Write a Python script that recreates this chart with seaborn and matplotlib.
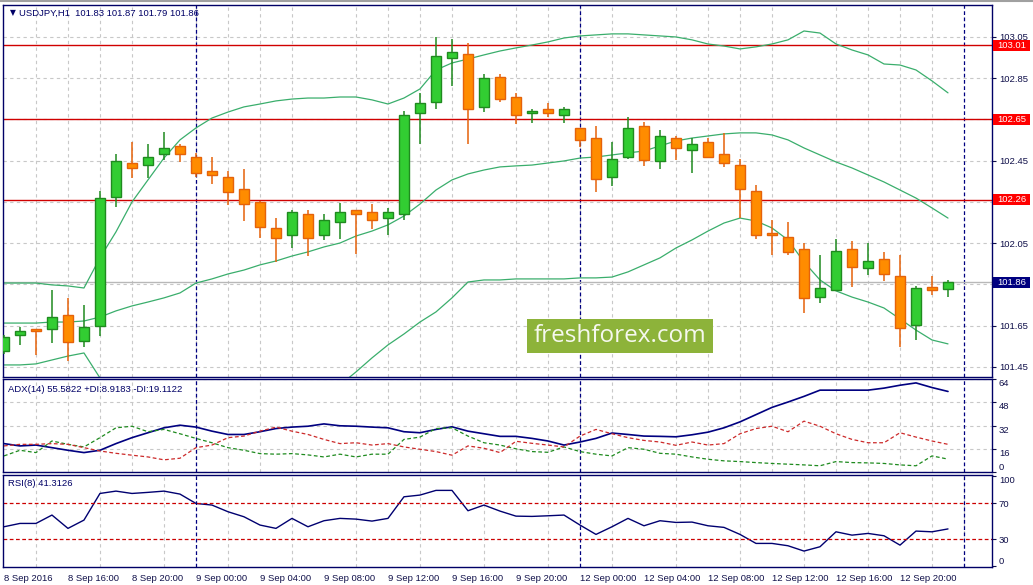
import matplotlib
matplotlib.use("Agg")
import matplotlib.pyplot as plt
import matplotlib.transforms as mtransforms
from matplotlib.patches import Rectangle
import seaborn as sns
import pandas as pd
import numpy as np

# USDJPY H1, 8 Sep 2016 12:00 .. 12 Sep 2016 23:00 (60 bars)
opens = [101.529, 101.604, 101.633, 101.633, 101.702, 101.578, 101.650, 102.276, 102.439, 102.428,
         102.481, 102.522, 102.467, 102.399, 102.370, 102.312, 102.250, 102.122, 102.089, 102.190,
         102.089, 102.152, 102.210, 102.200, 102.171, 102.190, 102.680, 102.736, 102.947, 102.966,
         102.709, 102.858, 102.758, 102.680, 102.699, 102.670, 102.607, 102.559, 102.370, 102.467,
         102.618, 102.447, 102.559, 102.501, 102.539, 102.481, 102.428, 102.302, 102.098, 102.079,
         102.021, 101.791, 101.822, 102.021, 101.929, 101.972, 101.890, 101.652, 101.839, 101.830]
highs = [101.605, 101.643, 101.636, 101.823, 101.786, 101.751, 102.305, 102.483, 102.542, 102.531,
         102.588, 102.531, 102.489, 102.470, 102.399, 102.410, 102.255, 102.171, 102.211, 102.211,
         102.190, 102.244, 102.212, 102.240, 102.219, 102.691, 102.777, 103.050, 103.039, 103.019,
         102.871, 102.871, 102.777, 102.702, 102.729, 102.709, 102.610, 102.618, 102.539, 102.661,
         102.638, 102.599, 102.570, 102.559, 102.559, 102.586, 102.457, 102.332, 102.163, 102.155,
         102.050, 101.993, 102.069, 102.061, 102.050, 102.009, 101.991, 101.843, 101.891, 101.870]
lows = [101.515, 101.558, 101.508, 101.568, 101.479, 101.548, 101.600, 102.227, 102.368, 102.368,
        102.454, 102.445, 102.370, 102.337, 102.237, 102.159, 102.077, 101.961, 102.028, 101.990,
        102.066, 102.069, 101.999, 102.118, 102.090, 102.163, 102.530, 102.700, 102.814, 102.530,
        102.688, 102.736, 102.627, 102.634, 102.661, 102.634, 102.518, 102.300, 102.329, 102.457,
        102.426, 102.409, 102.454, 102.389, 102.467, 102.418, 102.171, 102.069, 101.991, 101.991,
        101.710, 101.762, 101.822, 101.840, 101.896, 101.868, 101.548, 101.581, 101.801, 101.790]
closes = [101.594, 101.623, 101.623, 101.691, 101.570, 101.643, 102.268, 102.447, 102.416, 102.468,
          102.510, 102.481, 102.389, 102.379, 102.300, 102.239, 102.130, 102.077, 102.200, 102.077,
          102.161, 102.200, 102.190, 102.161, 102.200, 102.670, 102.729, 102.956, 102.976, 102.699,
          102.850, 102.748, 102.670, 102.690, 102.680, 102.699, 102.549, 102.360, 102.457, 102.607,
          102.454, 102.569, 102.510, 102.531, 102.467, 102.438, 102.312, 102.089, 102.089, 102.009,
          101.783, 101.832, 102.012, 101.936, 101.964, 101.899, 101.641, 101.832, 101.822, 101.860]

bb_upper = [101.857, 101.857, 101.857, 101.848, 101.843, 101.833, 101.979, 102.105, 102.250, 102.357,
            102.463, 102.551, 102.609, 102.657, 102.686, 102.711, 102.725, 102.740, 102.749, 102.754,
            102.754, 102.759, 102.759, 102.745, 102.725, 102.754, 102.798, 102.890, 102.924, 102.943,
            102.963, 102.982, 102.997, 103.011, 103.026, 103.045, 103.055, 103.060, 103.065, 103.065,
            103.060, 103.055, 103.050, 103.036, 103.016, 103.006, 102.992, 103.002, 103.016, 103.036,
            103.079, 103.069, 103.016, 102.987, 102.963, 102.919, 102.914, 102.890, 102.837, 102.779]
bb_mid = [101.663, 101.663, 101.663, 101.668, 101.668, 101.673, 101.692, 101.722, 101.746, 101.765,
          101.785, 101.809, 101.857, 101.877, 101.901, 101.920, 101.945, 101.964, 101.988, 102.008,
          102.032, 102.051, 102.085, 102.109, 102.139, 102.182, 102.240, 102.308, 102.357, 102.386,
          102.405, 102.420, 102.425, 102.429, 102.439, 102.449, 102.463, 102.468, 102.478, 102.488,
          102.497, 102.522, 102.546, 102.560, 102.570, 102.580, 102.585, 102.585, 102.575, 102.551,
          102.512, 102.478, 102.444, 102.415, 102.381, 102.347, 102.308, 102.269, 102.221, 102.172]
bb_lower = [101.460, 101.460, 101.465, 101.484, 101.503, 101.518, 101.397, 101.339, 101.242, 101.174,
            101.106, 101.067, 101.106, 101.096, 101.116, 101.130, 101.164, 101.188, 101.227, 101.261,
            101.309, 101.363, 101.426, 101.494, 101.557, 101.610, 101.668, 101.717, 101.785, 101.862,
            101.872, 101.872, 101.877, 101.877, 101.877, 101.877, 101.882, 101.882, 101.886, 101.911,
            101.945, 101.979, 102.027, 102.066, 102.109, 102.148, 102.172, 102.158, 102.124, 102.066,
            101.959, 101.872, 101.819, 101.789, 101.765, 101.736, 101.683, 101.629, 101.581, 101.562]

adx = [19.6, 18.0, 18.6, 16.8, 15.0, 13.4, 15.0, 19.6, 23.7, 27.1,
       30.5, 32.3, 31.0, 28.2, 25.9, 25.9, 27.8, 30.0, 31.0, 31.6,
       33.2, 31.9, 31.6, 31.0, 30.5, 27.8, 27.1, 29.4, 31.2, 28.2,
       26.4, 24.6, 24.6, 23.2, 21.4, 18.6, 20.7, 23.2, 26.9, 25.9,
       24.8, 24.6, 24.3, 25.7, 27.5, 30.5, 34.6, 39.6, 44.6, 48.3,
       52.2, 56.5, 56.5, 56.5, 56.5, 57.9, 59.9, 61.5, 58.3, 55.6]
plus_di = [11.1, 15.0, 13.4, 21.4, 19.1, 17.3, 23.7, 30.5, 31.6, 27.8,
           29.4, 26.4, 23.2, 20.2, 16.8, 15.0, 12.7, 12.3, 12.7, 11.8,
           10.4, 12.3, 10.4, 12.3, 12.3, 22.5, 24.1, 30.0, 30.5, 24.8,
           20.2, 18.6, 16.0, 14.1, 13.6, 17.3, 14.1, 12.3, 11.1, 16.8,
           15.7, 12.9, 12.3, 10.4, 8.8, 7.7, 7.2, 6.5, 5.9, 5.4,
           4.9, 4.3, 7.2, 6.5, 6.3, 5.9, 4.9, 4.3, 11.1, 8.9]
minus_di = [18.0, 19.1, 19.1, 19.6, 19.1, 16.8, 14.5, 12.9, 11.6, 10.4,
            8.4, 9.5, 16.8, 18.6, 23.7, 24.8, 28.2, 31.0, 28.2, 25.9,
            22.5, 19.6, 20.2, 18.6, 19.6, 17.3, 15.7, 14.1, 11.6, 18.0,
            16.4, 13.4, 21.2, 19.8, 18.6, 17.3, 24.8, 29.4, 26.4, 23.7,
            21.8, 20.7, 18.4, 20.7, 18.6, 19.6, 26.4, 30.0, 31.6, 27.8,
            35.1, 31.6, 26.4, 22.5, 20.2, 20.2, 27.1, 24.1, 21.4, 19.1]
rsi = [43.7, 47.4, 47.4, 56.7, 41.9, 51.1, 80.7, 83.3, 80.7, 81.9,
       83.3, 80.0, 69.6, 67.8, 60.4, 54.8, 45.6, 41.9, 53.0, 43.7,
       50.4, 53.0, 52.2, 50.0, 53.0, 77.0, 78.9, 84.1, 84.1, 61.5,
       67.8, 61.1, 55.5, 55.2, 55.9, 56.7, 45.6, 35.2, 43.7, 53.0,
       44.8, 50.4, 48.5, 48.9, 44.8, 43.0, 35.2, 25.2, 25.2, 22.6,
       16.7, 21.5, 38.1, 34.4, 36.3, 33.7, 23.3, 38.9, 38.1, 41.3]

time_labels = ["8 Sep 2016", "8 Sep 16:00", "8 Sep 20:00", "9 Sep 00:00", "9 Sep 04:00",
               "9 Sep 08:00", "9 Sep 12:00", "9 Sep 16:00", "9 Sep 20:00", "12 Sep 00:00",
               "12 Sep 04:00", "12 Sep 08:00", "12 Sep 12:00", "12 Sep 16:00", "12 Sep 20:00"]
price_ticks = [101.45, 101.65, 101.85, 102.05, 102.25, 102.45, 102.65, 102.85, 103.05]
red_levels = [103.01, 102.65, 102.26]
bid = 101.86
day_starts = [12, 36, 60]

W, H = 1033, 585
NAVY = "#000066"
TXT = "#10104a"
GRID = "#c8c8c8"
FS = 6.8

sns.set_style("white")
plt.rcParams["font.family"] = ["Liberation Sans", "DejaVu Sans"]

fig = plt.figure(figsize=(W / 100, H / 100), dpi=100)


def px_axes(x0, y0, x1, y1):
    return fig.add_axes([x0 / W, 1 - y1 / H, (x1 - x0) / W, (y1 - y0) / H])


ax = px_axes(3, 5, 992, 377)
ax_adx = px_axes(3, 379, 992, 472)
ax_rsi = px_axes(3, 475, 992, 567)

idx = np.arange(len(opens))
df = pd.DataFrame({"idx": idx, "open": opens, "high": highs, "low": lows, "close": closes,
                   "upper": bb_upper, "mid": bb_mid, "lower": bb_lower,
                   "adx": adx, "pdi": plus_di, "mdi": minus_di, "rsi": rsi})

XL = (-0.06, 61.75)
for a in (ax, ax_adx, ax_rsi):
    a.set_xlim(*XL)
    for s in a.spines.values():
        s.set_color(NAVY)
        s.set_linewidth(1)
    a.set_xticks(np.arange(0, 62, 2), minor=True)
    a.grid(True, which="minor", axis="x", color=GRID, lw=0.8, ls=(0, (3, 3)))
    a.yaxis.tick_right()
    a.tick_params(axis="y", which="both", length=3, direction="out", pad=2,
                  labelsize=FS, colors=TXT)
    for d in day_starts:
        a.axvline(d, color="#000080", lw=0.9, ls=(0, (3, 2)), zorder=1.8)

# --- main price panel
ylo, yhi = 101.4015, 103.205
ax.set_ylim(ylo, yhi)
ax.set_yticks(price_ticks)
# labels hidden behind the level boxes are left blank
covered = {102.65, 102.25, 101.85}
ax.set_yticklabels(["" if t in covered else f"{t:.2f}" for t in price_ticks])
ax.grid(True, which="major", axis="y", color=GRID, lw=0.8, ls=(0, (3, 3)))
ax.tick_params(axis="x", which="both", length=0, labelbottom=False)

ax.axhline(bid, color="#b8b8b8", lw=1, zorder=1.9)
for lv in red_levels:
    ax.axhline(lv, color="#d00000", lw=1, zorder=2.2)

for col in ["upper", "mid", "lower"]:
    sns.lineplot(data=df, x="idx", y=col, ax=ax, color="#3aae6c", lw=0.9,
                 estimator=None, errorbar=None, zorder=2.5)

o, h, l, c = (df[k].to_numpy() for k in ["open", "high", "low", "close"])
up = c >= o
body_lo = np.minimum(o, c)
body_h = np.maximum(np.abs(c - o), 0.004)
for mask, fc, ec in [(up, "#32cd32", "#1f8a1f"), (~up, "#ff8c00", "#e5620a")]:
    ax.vlines(idx[mask], l[mask], h[mask], color=ec, lw=1.1, zorder=3)
    ax.bar(idx[mask], body_h[mask], bottom=body_lo[mask], width=0.62,
           color=fc, edgecolor=ec, linewidth=1, zorder=4)

ppx = (377 - 5) / (yhi - ylo)
blend = mtransforms.blended_transform_factory(fig.transFigure, ax.transData)
for lv, fc in [(v, "#ff0000") for v in red_levels] + [(bid, "#000080")]:
    r = Rectangle((993 / W, lv - 5.5 / ppx), 37 / W, 11 / ppx, transform=blend,
                  fc=fc, ec="none", clip_on=False, zorder=10)
    ax.add_artist(r)
    ax.text(1011.5 / W, lv, f"{lv:.2f}", transform=blend, ha="center", va="center",
            color="white", fontsize=FS, zorder=11, clip_on=False)

# --- ADX panel
sns.lineplot(data=df, x="idx", y="adx", ax=ax_adx, color="#000080", lw=1.2,
             estimator=None, errorbar=None)
sns.lineplot(data=df, x="idx", y="pdi", ax=ax_adx, color="#1e8a1e", lw=0.9,
             linestyle=(0, (3, 2)), estimator=None, errorbar=None)
sns.lineplot(data=df, x="idx", y="mdi", ax=ax_adx, color="#cc2a2a", lw=0.9,
             linestyle=(0, (3, 2)), estimator=None, errorbar=None)
ax_adx.set_ylim(0, 64.2)
ax_adx.set_yticks([0, 16, 32, 48, 64])
ax_adx.set_yticklabels(["0", "16", "32", "48", "64"])
for t in ax_adx.get_yticklabels():
    t.set_va("bottom" if t.get_text() == "0" else "top")
ax_adx.grid(True, which="major", axis="y", color=GRID, lw=0.8, ls=(0, (3, 3)))
ax_adx.tick_params(axis="x", which="both", length=0, labelbottom=False)

# --- RSI panel
sns.lineplot(data=df, x="idx", y="rsi", ax=ax_rsi, color="#000070", lw=1,
             estimator=None, errorbar=None)
for lv in (70, 30):
    ax_rsi.axhline(lv, color="#cc0000", lw=0.9, ls=(0, (3, 2)))
ax_rsi.set_ylim(-1, 101.2)
ax_rsi.set_yticks([0, 30, 70, 100])
ax_rsi.set_yticklabels(["0", "30", "70", "100"])
for t in ax_rsi.get_yticklabels():
    if t.get_text() == "100":
        t.set_va("top")
    elif t.get_text() == "0":
        t.set_va("bottom")
ax_rsi.set_xticks(np.arange(0, 57, 4))
ax_rsi.set_xticklabels(time_labels)
ax_rsi.tick_params(axis="x", which="major", length=3, direction="out", pad=2,
                   labelsize=FS, colors=TXT)
ax_rsi.tick_params(axis="x", which="minor", length=0)
for t in ax_rsi.get_xticklabels():
    t.set_ha("left")

for a in (ax, ax_adx, ax_rsi):
    a.set_xlabel("")
    a.set_ylabel("")

# --- captions
fig.text(10 / W, 1 - 13 / H, "\u25bc", fontsize=5.5, color=NAVY, va="center",
         family=["DejaVu Sans"])
fig.text(19 / W, 1 - 13 / H, "USDJPY,H1  101.83 101.87 101.79 101.86", fontsize=FS,
         color=NAVY, va="center")
fig.text(8 / W, 1 - 389 / H, "ADX(14) 55.5822 +DI:8.9183 -DI:19.1122", fontsize=FS,
         color=NAVY, va="center")
fig.text(8 / W, 1 - 483 / H, "RSI(8) 41.3126", fontsize=FS, color=NAVY, va="center")

# watermark
fig.add_artist(Rectangle((527 / W, 1 - 353 / H), 186 / W, 34 / H, transform=fig.transFigure,
                         fc="#8db33a", ec="none", zorder=5))
fig.text(620 / W, 1 - 336 / H, "freshforex.com", fontsize=17.5, color="#f6f8ee",
         family=["Open Sans", "DejaVu Sans"], ha="center", va="center", zorder=6)

fig.add_artist(plt.Line2D([0, 1], [1 - 1 / H] * 2, transform=fig.transFigure,
                          color="#a0a0a0", lw=1.5))

fig.savefig("out.png", dpi=100)
